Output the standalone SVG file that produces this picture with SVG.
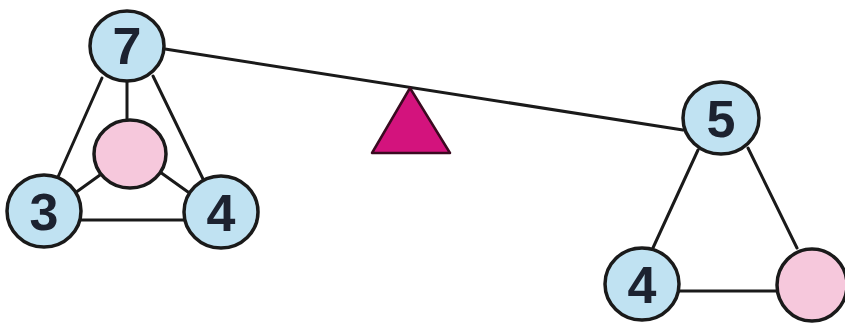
<svg xmlns="http://www.w3.org/2000/svg" width="845" height="323" viewBox="0 0 845 323">
<style>
.e{stroke:#1a1a1a;stroke-width:3;fill:none;stroke-linecap:round}
.b{fill:#c0e2f2;stroke:#1a1a1a;stroke-width:3.5}
.p{fill:#f6c8dc;stroke:#1a1a1a;stroke-width:3.5}
.t{font-family:"Liberation Sans",Arial,sans-serif;font-weight:bold;font-size:52px;fill:#1c2230;text-anchor:middle}
</style>
<rect width="845" height="323" fill="#ffffff"/>
<g id="connectors">
<line class="e" x1="165" y1="49" x2="683" y2="130"/>
<line class="e" x1="102" y1="78" x2="58" y2="177"/>
<line class="e" x1="153" y1="76" x2="203" y2="179"/>
<line class="e" x1="127" y1="78" x2="127" y2="122"/>
<line class="e" x1="100" y1="175" x2="75" y2="193"/>
<line class="e" x1="160" y1="172" x2="188" y2="192"/>
<line class="e" x1="80" y1="220" x2="185" y2="220"/>
<line class="e" x1="698" y1="150" x2="652" y2="250"/>
<line class="e" x1="748" y1="148" x2="797" y2="248"/>
<line class="e" x1="678" y1="291" x2="778" y2="291"/>
</g>
<g id="fulcrum">
<polygon points="410,88 372,153 450,153" fill="#d3137d" stroke="#3a0a20" stroke-width="2.5" stroke-linejoin="round"/>
</g>
<g id="n7"><ellipse class="b" cx="127" cy="46" rx="37" ry="35"/><text class="t" x="127" y="64">7</text></g>
<g id="pinkL"><ellipse class="p" cx="130" cy="154" rx="36" ry="34"/></g>
<g id="n3"><ellipse class="b" cx="44" cy="211" rx="37" ry="36"/><text class="t" x="44" y="230">3</text></g>
<g id="n4L"><ellipse class="b" cx="221" cy="212" rx="37" ry="36"/><text class="t" x="221" y="231">4</text></g>
<g id="n5"><ellipse class="b" cx="721" cy="118" rx="38" ry="36"/><text class="t" x="721" y="137">5</text></g>
<g id="n4R"><ellipse class="b" cx="642" cy="284" rx="37" ry="36"/><text class="t" x="642" y="303">4</text></g>
<g id="pinkR"><ellipse class="p" cx="812" cy="285" rx="35" ry="36"/></g>
</svg>
